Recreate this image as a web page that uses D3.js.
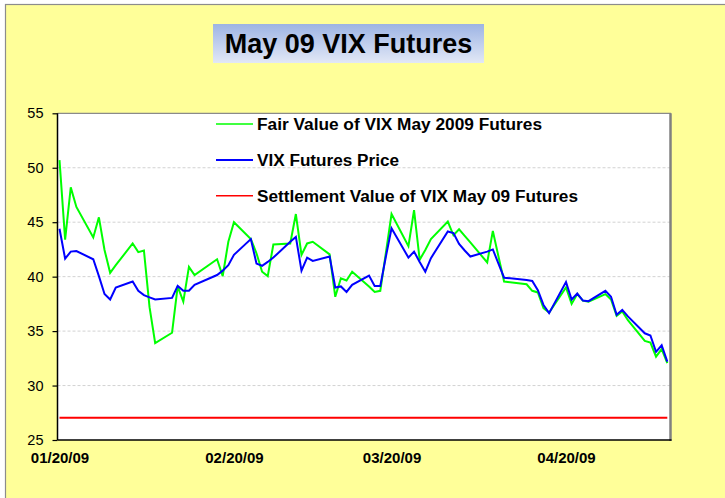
<!DOCTYPE html>
<html>
<head>
<meta charset="utf-8">
<script src="https://cdn.jsdelivr.net/npm/d3@7"></script>
<style>
  body { margin: 0; background: #fff; }
  svg text { font-family: Arial, "Liberation Sans", sans-serif; }
  .grid line { stroke: #d2d2d2; stroke-dasharray: 3,2; }
</style>
</head>
<body>
<div id="container"></div>
<script>
// trading days, Jan 20 - May 8 2009
var dates = [
  "2009-01-20","2009-01-21","2009-01-22","2009-01-23","2009-01-26","2009-01-27","2009-01-28","2009-01-29","2009-01-30",
  "2009-02-02","2009-02-03","2009-02-04","2009-02-05","2009-02-06","2009-02-09","2009-02-10","2009-02-11","2009-02-12","2009-02-13",
  "2009-02-17","2009-02-18","2009-02-19","2009-02-20","2009-02-23","2009-02-24","2009-02-25","2009-02-26","2009-02-27",
  "2009-03-02","2009-03-03","2009-03-04","2009-03-05","2009-03-06","2009-03-09","2009-03-10","2009-03-11","2009-03-12","2009-03-13",
  "2009-03-16","2009-03-17","2009-03-18","2009-03-19","2009-03-20","2009-03-23","2009-03-24","2009-03-25","2009-03-26","2009-03-27",
  "2009-03-30","2009-03-31",
  "2009-04-01","2009-04-02","2009-04-03","2009-04-06","2009-04-07","2009-04-08","2009-04-09","2009-04-13","2009-04-14","2009-04-15",
  "2009-04-16","2009-04-17","2009-04-20","2009-04-21","2009-04-22","2009-04-23","2009-04-24","2009-04-27","2009-04-28","2009-04-29",
  "2009-04-30",
  "2009-05-01","2009-05-04","2009-05-05","2009-05-06","2009-05-07","2009-05-08"
];

var fairValue = [
  50.7, 43.4, 48.2, 46.4, 43.6, 45.45, 42.45, 40.35, 41.05,
  43.05, 42.25, 42.4, 37.2, 33.9, 34.85, 39.1, 37.7, 40.9, 40.15,
  41.6, 40.05, 43.2, 45.0, 43.45, 42.15, 40.45, 40.05, 42.95,
  43.05, 45.75, 42.0, 43.05, 43.2, 42.05, 38.15, 39.85, 39.65, 40.45,
  39.1, 38.6, 38.7, 42.2, 45.75, 42.8, 46.1, 41.55, 42.45, 43.45,
  45.05, 43.8,
  44.35, 43.75, 43.15, 41.3, 44.2, 41.85, 39.55, 39.3, 38.7, 38.55,
  37.1, 36.7, 39.0, 37.5, 38.4, 37.8, 37.7, 38.4, 37.9, 36.4,
  36.8,
  36.0, 34.1, 33.95, 32.65, 33.35, 32.05
];

var futuresPrice = [
  44.4, 41.65, 42.3, 42.35, 41.6, 40.05, 38.4, 37.9, 39.0,
  39.55, 38.7, 38.3, 38.1, 37.9, 38.05, 39.15, 38.7, 38.7, 39.25,
  40.15, 40.55, 41.05, 42.0, 43.45, 41.2, 41.0, 41.35, 41.75,
  43.2, 43.65, 40.55, 41.75, 41.45, 41.85, 39.0, 39.1, 38.6, 39.25,
  40.1, 39.15, 39.15, 41.85, 44.45, 41.75, 42.3, 41.35, 40.45, 41.7,
  44.15, 44.0,
  43.0, 42.4, 41.85, 42.3, 42.5, 41.2, 39.9, 39.7, 39.6, 38.75,
  37.4, 36.65, 39.5, 37.9, 38.45, 37.8, 37.75, 38.7, 38.15, 36.5,
  36.95,
  36.35, 34.8, 34.6, 33.1, 33.7, 32.2
];

var settlementValue = 27.05;

var seriesNames = [
  "Fair Value of VIX May 2009 Futures",
  "VIX Futures Price",
  "Settlement Value of VIX May 09 Futures"
];
var seriesColors = ["#00ff00", "#0000ff", "#ff0000"];

var yTicks = [25, 30, 35, 40, 45, 50, 55];
var xTicks = ["2009-01-20", "2009-02-20", "2009-03-20", "2009-04-20"];

var W = 725, H = 498;
var plot = {left: 57.5, right: 670, top: 113.3, bottom: 440};

var parse = d3.utcParse("%Y-%m-%d");
var fmt = d3.utcFormat("%m/%d/%y");
var days = dates.map(parse);

var svg = d3.select("#container").append("svg")
  .attr("width", W)
  .attr("height", H);

// chart background + frame
svg.append("rect")
  .attr("x", 5.5).attr("y", 4.5)
  .attr("width", W + 10).attr("height", H + 10)
  .attr("fill", "#ffff99")
  .attr("stroke", "#8c8c8c")
  .attr("stroke-width", 1.2);

// title box with gradient
var defs = svg.append("defs");
var grad = defs.append("linearGradient")
  .attr("id", "titleGrad")
  .attr("x1", 0).attr("y1", 0).attr("x2", 0).attr("y2", 1);
grad.append("stop").attr("offset", "0%").attr("stop-color", "#9db4e4");
grad.append("stop").attr("offset", "100%").attr("stop-color", "#e2e8f6");

svg.append("rect")
  .attr("x", 213).attr("y", 24)
  .attr("width", 271).attr("height", 39)
  .attr("fill", "url(#titleGrad)");

svg.append("text")
  .attr("x", 348.5).attr("y", 53)
  .attr("text-anchor", "middle")
  .attr("font-size", "27px")
  .attr("font-weight", "bold")
  .attr("fill", "#000")
  .text("May 09 VIX Futures");

var x = d3.scaleUtc()
  .domain([days[0], days[days.length - 1]])
  .range([59.5, 667.3]);

var y = d3.scaleLinear()
  .domain([25, 55])
  .range([plot.bottom, plot.top]);

// plot area
svg.append("rect")
  .attr("x", plot.left).attr("y", plot.top)
  .attr("width", plot.right - plot.left)
  .attr("height", plot.bottom - plot.top)
  .attr("fill", "#fff");

// gridlines
svg.append("g")
  .attr("class", "grid")
  .selectAll("line")
  .data(yTicks.filter(function(d) { return d > 25 && d < 55; }))
  .enter().append("line")
  .attr("x1", plot.left).attr("x2", plot.right)
  .attr("y1", function(d) { return y(d); })
  .attr("y2", function(d) { return y(d); });

// top + right border (gray shadow style)
svg.append("line")
  .attr("x1", plot.left).attr("x2", plot.right + 1)
  .attr("y1", plot.top).attr("y2", plot.top)
  .attr("stroke", "#8a8a8a").attr("stroke-width", 1.2);
svg.append("line")
  .attr("x1", plot.right + 0.5).attr("x2", plot.right + 0.5)
  .attr("y1", plot.top).attr("y2", plot.bottom + 1)
  .attr("stroke", "#808080").attr("stroke-width", 2.5);

// y axis
var yAxis = svg.append("g")
  .attr("transform", "translate(" + plot.left + ",0)")
  .call(d3.axisLeft(y).tickValues(yTicks).tickSize(5).tickPadding(9));
yAxis.select(".domain").remove();
yAxis.selectAll(".tick line").attr("stroke", "#000").attr("stroke-width", 1.2);
yAxis.selectAll(".tick text")
  .attr("font-size", "14.5px")
  .attr("fill", "#000")
  .style("font-family", "Arial, 'Liberation Sans', sans-serif");

// x axis
var xAxis = svg.append("g")
  .attr("transform", "translate(0," + plot.bottom + ")")
  .call(d3.axisBottom(x)
    .tickValues(xTicks.map(parse))
    .tickFormat(fmt)
    .tickSize(0)
    .tickPadding(12));
xAxis.select(".domain").remove();
xAxis.selectAll(".tick text")
  .attr("font-size", "15px")
  .attr("font-weight", "bold")
  .attr("fill", "#000")
  .style("font-family", "Arial, 'Liberation Sans', sans-serif");

// axis lines
svg.append("line")
  .attr("x1", plot.left).attr("x2", plot.left)
  .attr("y1", plot.top).attr("y2", plot.bottom)
  .attr("stroke", "#000").attr("stroke-width", 1.5);
svg.append("line")
  .attr("x1", plot.left).attr("x2", plot.right + 1.5)
  .attr("y1", plot.bottom).attr("y2", plot.bottom)
  .attr("stroke", "#000").attr("stroke-width", 1.5);

// series
var line = d3.line()
  .x(function(d) { return x(d[0]); })
  .y(function(d) { return y(d[1]); });

var seriesData = [
  days.map(function(d, i) { return [d, fairValue[i]]; }),
  days.map(function(d, i) { return [d, futuresPrice[i]]; }),
  [[days[0], settlementValue], [days[days.length - 1], settlementValue]]
];

svg.append("g").selectAll("path")
  .data(seriesData)
  .enter().append("path")
  .attr("d", line)
  .attr("fill", "none")
  .attr("stroke", function(d, i) { return seriesColors[i]; })
  .attr("stroke-width", 2)
  .attr("stroke-linejoin", "miter");

// legend (text widths stretched like the original)
var legendY = [124, 160, 195.7];
var legendW = [1.5, 2.2, 1.5];
var legendLen = [285, 142, 321];
var legend = svg.append("g");
seriesNames.forEach(function(name, i) {
  legend.append("line")
    .attr("x1", 216).attr("x2", 253)
    .attr("y1", legendY[i]).attr("y2", legendY[i])
    .attr("stroke", seriesColors[i])
    .attr("stroke-width", legendW[i]);
  legend.append("text")
    .attr("x", 257)
    .attr("y", legendY[i] + 6)
    .attr("font-size", "16px")
    .attr("font-weight", "bold")
    .attr("fill", "#000")
    .attr("textLength", legendLen[i])
    .attr("lengthAdjust", "spacingAndGlyphs")
    .text(name);
});
</script>
</body>
</html>
